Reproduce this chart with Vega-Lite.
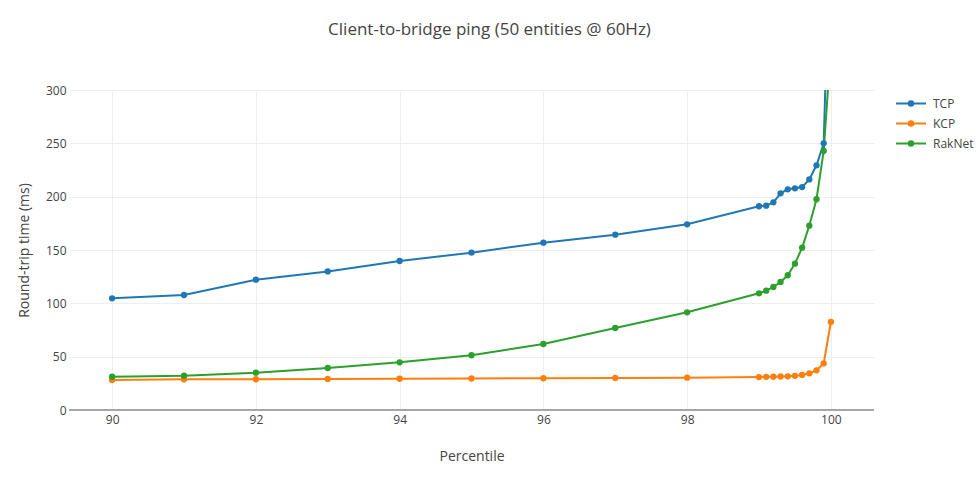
{
  "$schema": "https://vega.github.io/schema/vega-lite/v6.json",
  "autosize": {"type": "none"},
  "padding": {"left": 69, "top": 90, "right": 103, "bottom": 72},
  "width": 805,
  "height": 320,
  "background": "white",
  "config": {
    "font": "Open Sans",
    "view": {"stroke": null},
    "axis": {"labelFont": "Open Sans", "titleFont": "Open Sans", "labelColor": "#444", "titleColor": "#444", "labelFontSize": 12, "titleFontSize": 14, "titleFontWeight": "normal", "gridColor": "#eeeeee", "gridWidth": 1, "ticks": false}
  },
  "title": {
    "text": "Client-to-bridge ping (50 entities @ 60Hz)",
    "font": "Open Sans",
    "fontSize": 17,
    "fontWeight": "normal",
    "color": "#444",
    "anchor": "middle",
    "frame": "group",
    "dx": 18,
    "offset": 45
  },
  "data": {
    "values": [
      {"p": 90, "protocol": "TCP", "rtt": 104.7},
      {"p": 91, "protocol": "TCP", "rtt": 107.8},
      {"p": 92, "protocol": "TCP", "rtt": 122.2},
      {"p": 93, "protocol": "TCP", "rtt": 129.9},
      {"p": 94, "protocol": "TCP", "rtt": 139.7},
      {"p": 95, "protocol": "TCP", "rtt": 147.5},
      {"p": 96, "protocol": "TCP", "rtt": 156.9},
      {"p": 97, "protocol": "TCP", "rtt": 164.4},
      {"p": 98, "protocol": "TCP", "rtt": 174.1},
      {"p": 99, "protocol": "TCP", "rtt": 191.0},
      {"p": 99.1, "protocol": "TCP", "rtt": 191.6},
      {"p": 99.2, "protocol": "TCP", "rtt": 194.7},
      {"p": 99.3, "protocol": "TCP", "rtt": 203.1},
      {"p": 99.4, "protocol": "TCP", "rtt": 206.9},
      {"p": 99.5, "protocol": "TCP", "rtt": 207.8},
      {"p": 99.6, "protocol": "TCP", "rtt": 209.0},
      {"p": 99.7, "protocol": "TCP", "rtt": 216.2},
      {"p": 99.8, "protocol": "TCP", "rtt": 229.4},
      {"p": 99.9, "protocol": "TCP", "rtt": 250.0},
      {"p": 100, "protocol": "TCP", "rtt": 480},
      {"p": 90, "protocol": "KCP", "rtt": 28.1},
      {"p": 91, "protocol": "KCP", "rtt": 28.8},
      {"p": 92, "protocol": "KCP", "rtt": 28.8},
      {"p": 93, "protocol": "KCP", "rtt": 29.1},
      {"p": 94, "protocol": "KCP", "rtt": 29.3},
      {"p": 95, "protocol": "KCP", "rtt": 29.5},
      {"p": 96, "protocol": "KCP", "rtt": 29.8},
      {"p": 97, "protocol": "KCP", "rtt": 30.0},
      {"p": 98, "protocol": "KCP", "rtt": 30.3},
      {"p": 99, "protocol": "KCP", "rtt": 30.9},
      {"p": 99.1, "protocol": "KCP", "rtt": 31.1},
      {"p": 99.2, "protocol": "KCP", "rtt": 31.2},
      {"p": 99.3, "protocol": "KCP", "rtt": 31.4},
      {"p": 99.4, "protocol": "KCP", "rtt": 31.6},
      {"p": 99.5, "protocol": "KCP", "rtt": 32.0},
      {"p": 99.6, "protocol": "KCP", "rtt": 32.9},
      {"p": 99.7, "protocol": "KCP", "rtt": 34.4},
      {"p": 99.8, "protocol": "KCP", "rtt": 37.2},
      {"p": 99.9, "protocol": "KCP", "rtt": 43.7},
      {"p": 100, "protocol": "KCP", "rtt": 82.5},
      {"p": 90, "protocol": "RakNet", "rtt": 31.2},
      {"p": 91, "protocol": "RakNet", "rtt": 32.2},
      {"p": 92, "protocol": "RakNet", "rtt": 35.0},
      {"p": 93, "protocol": "RakNet", "rtt": 39.4},
      {"p": 94, "protocol": "RakNet", "rtt": 44.7},
      {"p": 95, "protocol": "RakNet", "rtt": 51.3},
      {"p": 96, "protocol": "RakNet", "rtt": 61.9},
      {"p": 97, "protocol": "RakNet", "rtt": 76.9},
      {"p": 98, "protocol": "RakNet", "rtt": 91.6},
      {"p": 99, "protocol": "RakNet", "rtt": 109.4},
      {"p": 99.1, "protocol": "RakNet", "rtt": 111.9},
      {"p": 99.2, "protocol": "RakNet", "rtt": 115.3},
      {"p": 99.3, "protocol": "RakNet", "rtt": 120.0},
      {"p": 99.4, "protocol": "RakNet", "rtt": 126.3},
      {"p": 99.5, "protocol": "RakNet", "rtt": 137.2},
      {"p": 99.6, "protocol": "RakNet", "rtt": 152.2},
      {"p": 99.7, "protocol": "RakNet", "rtt": 172.8},
      {"p": 99.8, "protocol": "RakNet", "rtt": 197.6},
      {"p": 99.9, "protocol": "RakNet", "rtt": 242.8},
      {"p": 100, "protocol": "RakNet", "rtt": 340}
    ]
  },
  "layer": [
    {
      "mark": {"type": "rule", "color": "#a6a6a6", "strokeWidth": 2},
      "data": {"values": [{"z": 0}]},
      "encoding": {"y": {"field": "z", "type": "quantitative", "scale": {"domain": [0, 300]}}}
    },
    {
      "mark": {"type": "line", "strokeWidth": 2, "clip": true, "point": {"filled": true, "size": 40}},
      "encoding": {
        "x": {
          "field": "p", "type": "quantitative",
          "scale": {"domain": [89.4, 100.6], "nice": false, "zero": false},
          "axis": {"title": "Percentile", "values": [90, 92, 94, 96, 98, 100], "domain": false, "labelPadding": 4, "titlePadding": 24, "gridColor": "#eeeeee"}
        },
        "y": {
          "field": "rtt", "type": "quantitative",
          "scale": {"domain": [0, 300], "nice": false},
          "axis": {"title": "Round-trip time (ms)", "values": [0, 50, 100, 150, 200, 250, 300], "domain": false, "labelPadding": 3, "titlePadding": 14}
        },
        "color": {
          "field": "protocol", "type": "nominal",
          "scale": {"domain": ["TCP", "KCP", "RakNet"], "range": ["#1f77b4", "#ff7f0e", "#2ca02c"]},
          "legend": {
            "title": null,
            "orient": "none",
            "legendX": 833.5,
            "legendY": 5,
            "labelFont": "Open Sans",
            "labelFontSize": 12,
            "labelColor": "#444",
            "symbolType": "M-2,0H2M-0.3,0A0.3,0.3 0 1,1 0.3,0A0.3,0.3 0 1,1 -0.3,0Z",
            "symbolSize": 225,
            "symbolStrokeWidth": 2,
            "rowPadding": 5,
            "labelOffset": 13.5
          }
        }
      }
    }
  ]
}
